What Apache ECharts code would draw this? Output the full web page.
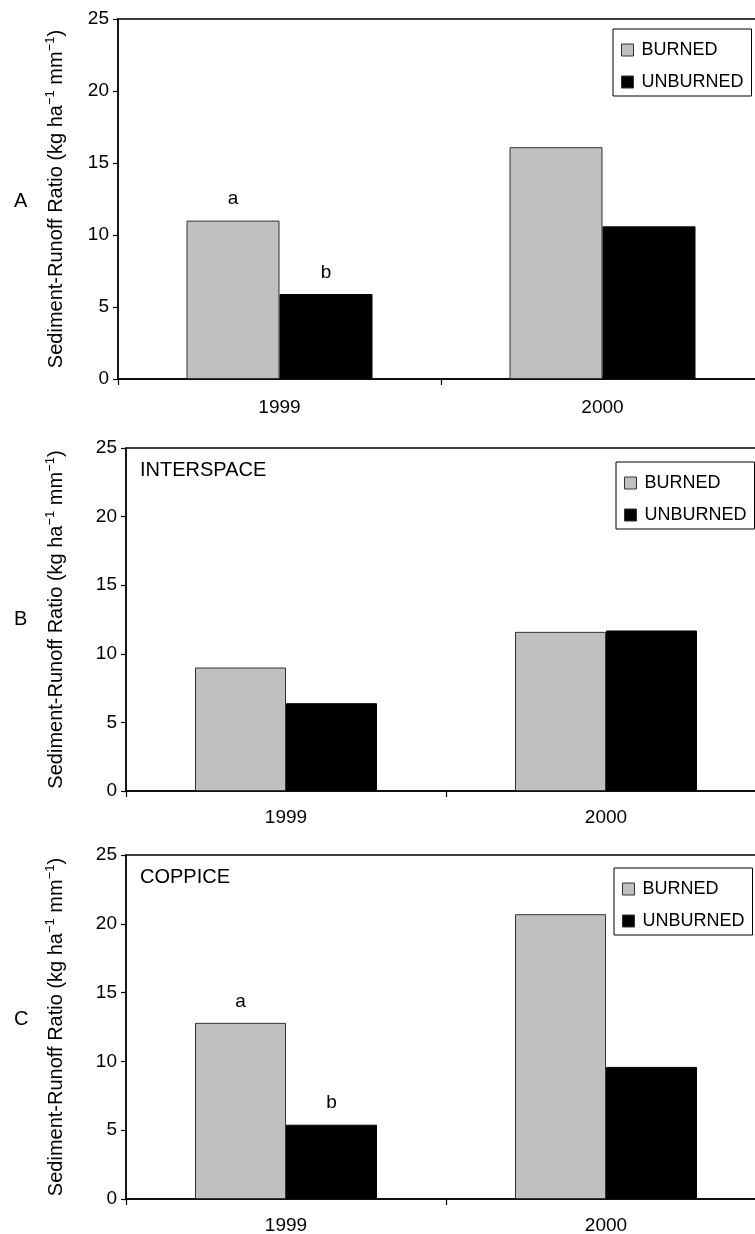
<!DOCTYPE html>
<html>
<head>
<meta charset="utf-8">
<script src="https://cdn.jsdelivr.net/npm/echarts@6/dist/echarts.min.js"></script>
<style>
html,body{margin:0;padding:0;background:#fff;}
#c{width:755px;height:1234px;}
</style>
</head>
<body>
<div id="c"></div>
<script>
// ---- data ----
const years = ['1999', '2000'];
const seriesNames = ['BURNED', 'UNBURNED'];
const yTicks = [0, 5, 10, 15, 20, 25];

const burnedA = [11.0, 16.1];
const unburnedA = [5.9, 10.6];
const sigBurnedA = ['a', ''];
const sigUnburnedA = ['b', ''];

const burnedB = [9.0, 11.6];
const unburnedB = [6.4, 11.7];
const sigBurnedB = ['', ''];
const sigUnburnedB = ['', ''];

const burnedC = [12.8, 20.7];
const unburnedC = [5.4, 9.6];
const sigBurnedC = ['a', ''];
const sigUnburnedC = ['b', ''];

const panelLetters = ['A', 'B', 'C'];
const panelTitles = ['', 'INTERSPACE', 'COPPICE'];
const yTitle = 'Sediment-Runoff Ratio (kg ha{sup|\u22121} mm{sup|\u22121})';

// ---- layout ----
const FONT = 'Liberation Sans, Arial, sans-serif';
const FS = 19;
const panels = [
  {left: 118, top: 19, width: 646, height: 360, barW: 93, nameGap: 50, letterTop: 191, legTop: 29, legLeft: 613, titleTop: 0, xMargin: 19},
  {left: 126, top: 448, width: 640, height: 343, barW: 91, nameGap: 58, letterTop: 609, legTop: 462, legLeft: 616, titleTop: 460, xMargin: 17},
  {left: 126, top: 855, width: 640, height: 344, barW: 91, nameGap: 58, letterTop: 1009, legTop: 868, legLeft: 614, titleTop: 867, xMargin: 17}
];
const data = [
  [burnedA, unburnedA, sigBurnedA, sigUnburnedA],
  [burnedB, unburnedB, sigBurnedB, sigUnburnedB],
  [burnedC, unburnedC, sigBurnedC, sigUnburnedC]
];

const grid = [], xAxis = [], yAxis = [], series = [], legend = [], title = [];
panels.forEach((p, i) => {
  grid.push({left: p.left, top: p.top, width: p.width, height: p.height,
    containLabel: false, outerBoundsMode: 'none',
    show: true, borderColor: '#000', borderWidth: 1.3, backgroundColor: 'transparent'});
  xAxis.push({type: 'category', gridIndex: i, data: years,
    axisLine: {lineStyle: {color: '#000', width: 1.5}},
    axisTick: {show: true, length: 6, lineStyle: {color: '#000', width: 1.2}},
    axisLabel: {color: '#000', fontSize: FS, fontFamily: FONT, margin: p.xMargin}
  });
  yAxis.push({type: 'value', gridIndex: i, min: yTicks[0], max: yTicks[yTicks.length - 1], interval: 5,
    axisLine: {show: true, lineStyle: {color: '#000', width: 1.5}},
    axisTick: {show: true, length: 5, lineStyle: {color: '#000', width: 1.2}},
    splitLine: {show: false},
    axisLabel: {color: '#000', fontSize: FS, fontFamily: FONT, margin: 9},
    name: yTitle, nameLocation: 'middle', nameGap: p.nameGap, nameRotate: 90,
    nameTextStyle: {color: '#000', fontSize: 20, fontFamily: FONT, lineHeight: 24,
      rich: {sup: {fontSize: 13, fontFamily: FONT, color: '#000', verticalAlign: 'top', lineHeight: 24}}}
  });
  const d = data[i];
  [0, 1].forEach(k => {
    const sig = d[2 + k];
    series.push({type: 'bar', name: seriesNames[k], xAxisIndex: i, yAxisIndex: i,
      data: d[k], barWidth: p.barW, barGap: '0%',
      itemStyle: k === 0 ? {color: '#c0c0c0', borderColor: '#333', borderWidth: 1}
                         : {color: '#000', borderColor: '#000', borderWidth: 1},
      label: {show: true, position: 'top', distance: 12, color: '#000', fontSize: FS, fontFamily: FONT,
        formatter: (pp) => sig[pp.dataIndex]},
      emphasis: {disabled: true}, animation: false
    });
  });
  legend.push({data: seriesNames, orient: 'vertical', left: p.legLeft, top: p.legTop,
    itemWidth: 12, itemHeight: 12, itemGap: 14, padding: [12, 8, 5, 8],
    borderColor: '#000', borderWidth: 1, icon: 'rect', selectedMode: false,
    itemStyle: {borderColor: '#333', borderWidth: 1},
    textStyle: {color: '#000', fontSize: 18, fontFamily: FONT, padding: [0, 0, 0, 3]}
  });
  title.push({text: panelLetters[i], left: 14, top: p.letterTop,
    textStyle: {color: '#000', fontSize: 20, fontWeight: 'normal', fontFamily: FONT}, padding: 0});
  if (panelTitles[i]) {
    title.push({text: panelTitles[i], left: 140, top: p.titleTop,
      textStyle: {color: '#000', fontSize: 20, fontWeight: 'normal', fontFamily: FONT}, padding: 0});
  }
});

const chart = echarts.init(document.getElementById('c'), null, {renderer: 'canvas'});
chart.setOption({
  backgroundColor: '#fff',
  animation: false,
  title, grid, xAxis, yAxis, series, legend
});
</script>
</body>
</html>
